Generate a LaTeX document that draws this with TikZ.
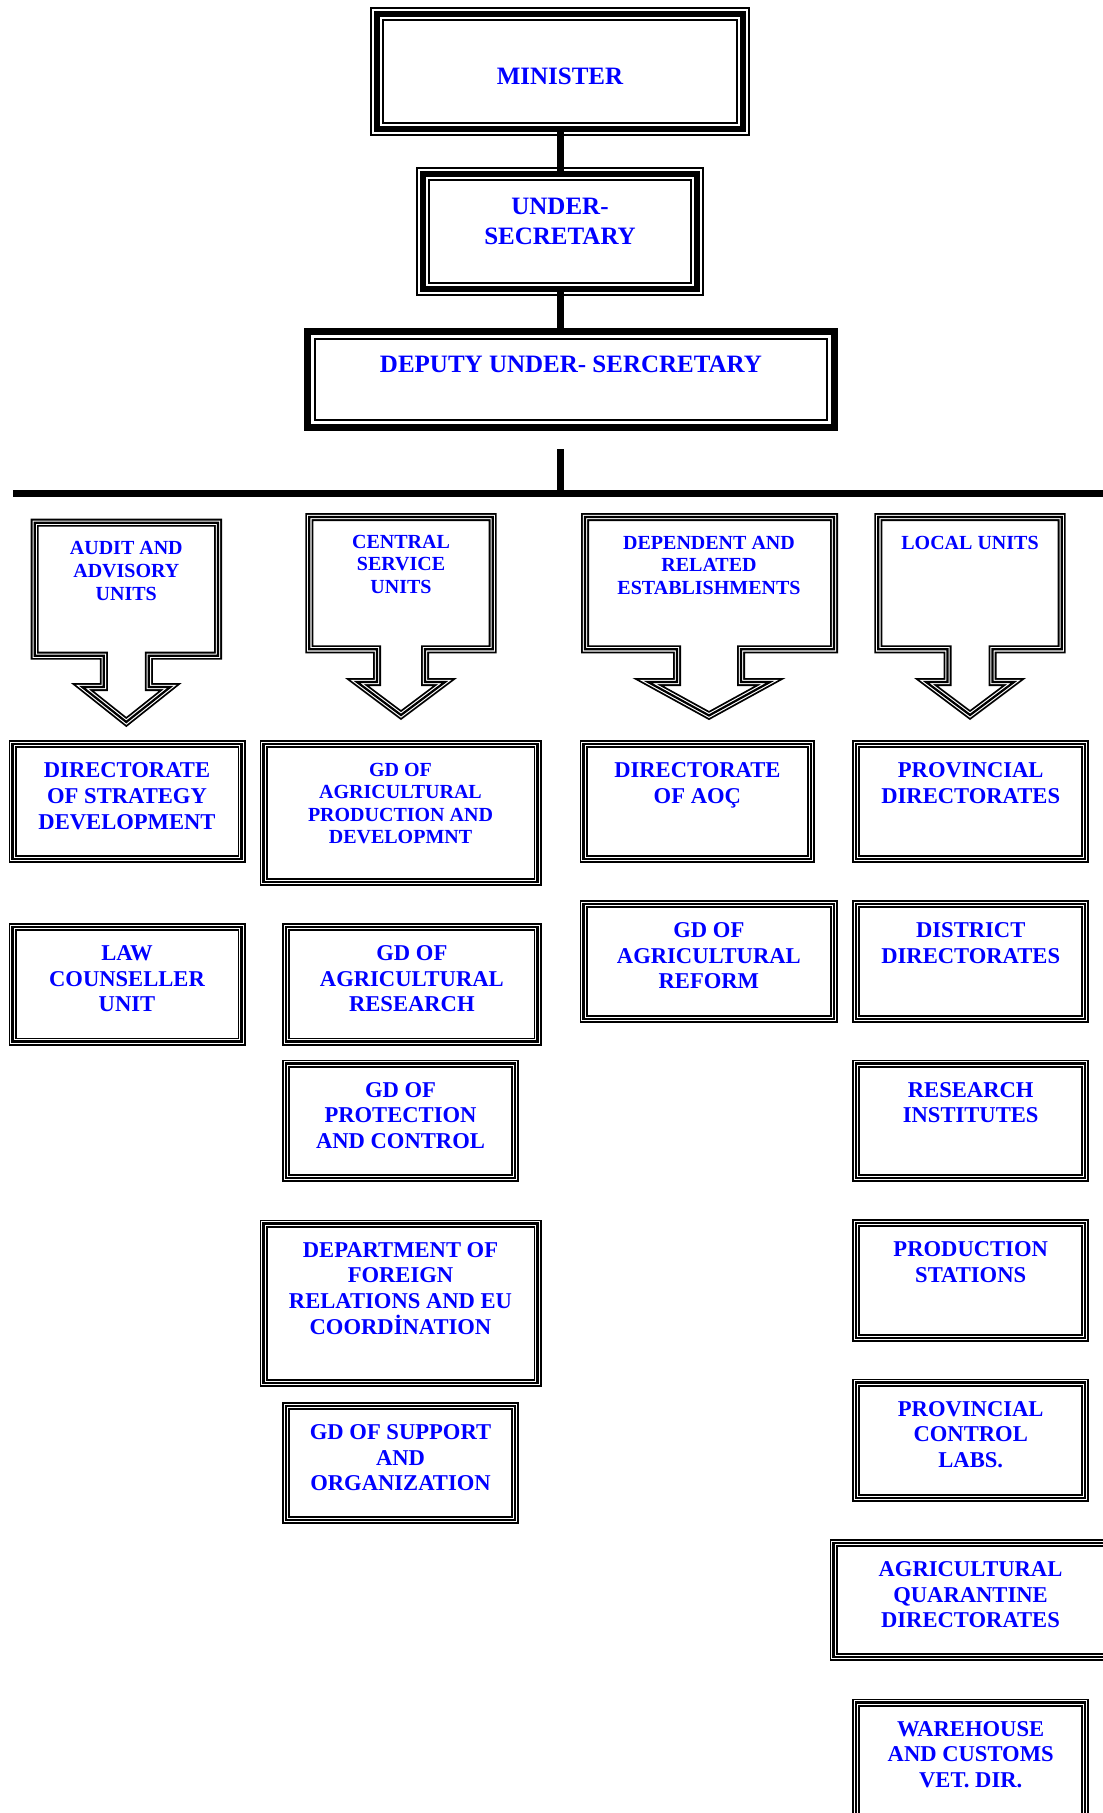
\documentclass[tikz,border=0pt]{standalone}
\usepackage{fontspec}
\setmainfont{Liberation Serif}
\usetikzlibrary{positioning,fit}

\begin{document}
\begin{tikzpicture}[x=0.5pt,y=-0.5pt,
  headbox/.style={draw=black, line width=3pt, inner sep=0pt, outer sep=0pt,
    preaction={draw=black, line width=7pt}, preaction={draw=white, line width=5pt}},
  unitbox/.style={draw=black, line width=1.1pt, inner sep=0pt, outer sep=0pt,
    preaction={draw=black, line width=4pt}, preaction={draw=white, line width=2.2pt}},
  trunk/.style={line width=3.5pt},
  toptext/.style={text=blue, align=center, inner sep=0pt, outer sep=0pt,
    font=\fontsize{12.5}{14.7}\selectfont\bfseries},
  unittext/.style={text=blue, align=center, inner sep=0pt, outer sep=0pt,
    font=\fontsize{11.3}{12.9}\selectfont\bfseries},
  smalltext/.style={text=blue, align=center, inner sep=0pt, outer sep=0pt,
    font=\fontsize{10}{11.3}\selectfont\bfseries}]

\useasboundingbox (0,0) rectangle (1102,1813);

% top of the chart
\node[headbox, fit={(377,14.3) (743,129)}] (minister) {};
\node[toptext, below=27pt of minister.north] (minister-t) {MINISTER};

\node[headbox, fit={(423,173.7) (697,289)}] (under) {};
\node[toptext, below=12.3pt of under.north] (under-t) {UNDER-\\SECRETARY};

\node[draw, line width=3.5pt, inner sep=0pt, outer sep=0pt, fit={(307.5,331.7) (834.5,427.3)}] (deputy) {};
\draw[line width=0.75pt] ([xshift=3.65pt,yshift=-3.65pt]deputy.north west) rectangle ([xshift=-3.65pt,yshift=3.65pt]deputy.south east);
\node[toptext, below=12.15pt of deputy.north] (deputy-t) {DEPUTY UNDER- SERCRETARY};

\draw[trunk] (minister.south) -- (under.north);
\draw[trunk] (under.south) -- (under.south |- deputy.north);

\coordinate (hub) at (560,449);
\coordinate (barL) at (13,493.5);
\coordinate (barR) at (1110,493.5);
\draw[trunk] (hub) -- (hub |- barL);
\draw[trunk] (barL) -- (barR);

% arrow shaped headings
\foreach \xl/\xr/\yt/\yb/\xc/\hs/\yw/\hw/\ytip in {
    34.7/218/522.7/655.7/126.3/22.5/687/44/722,
    309.3/492.7/517/649.3/401/24/682/44/715,
    585/834/517/649.3/709/32/682/61/715.5,
    878.3/1061.7/517/649.3/970/22.5/682/44/715}
  \draw[unitbox] (\xl,\yt) -- (\xr,\yt) -- (\xr,\yb) -- (\xc+\hs,\yb) -- (\xc+\hs,\yw)
    -- (\xc+\hw,\yw) -- (\xc,\ytip) -- (\xc-\hw,\yw) -- (\xc-\hs,\yw) -- (\xc-\hs,\yb)
    -- (\xl,\yb) -- cycle;

\node[smalltext, anchor=north] (audit) at (126.3,541.7) {AUDIT AND\\ADVISORY\\UNITS};
\node[smalltext, anchor=north] (central) at (401,535) {CENTRAL\\SERVICE\\UNITS};
\node[smalltext, anchor=north] (depend) at (709,536) {DEPENDENT AND\\RELATED\\ESTABLISHMENTS};
\node[smalltext, anchor=north] (local) at (970,536) {LOCAL UNITS};

% first column
\node[unitbox, fit={(12.5,744.2) (241.5,859.2)}] (strat) {};
\node[unittext, below=9.3pt of strat.north] (strat-t) {DIRECTORATE\\OF STRATEGY\\DEVELOPMENT};

\node[unitbox, fit={(12.5,926.8) (241.5,1041.5)}] (law) {};
\node[unittext, below=9.3pt of law.north] (law-t) {LAW\\COUNSELLER\\UNIT};

% second column
\node[unitbox, fit={(263.5,744.2) (537.5,881.8)}] (agprod) {};
\node[smalltext, below=9.3pt of agprod.north] (agprod-t) {GD OF\\AGRICULTURAL\\PRODUCTION AND\\DEVELOPMNT};

\node[unitbox, fit={(286.2,926.8) (537.5,1041.5)}] (agres) {};
\node[unittext, below=9.3pt of agres.north] (agres-t) {GD OF\\AGRICULTURAL\\RESEARCH};

\node[unitbox, fit={(286.2,1063.5) (514.8,1178.2)}] (prot) {};
\node[unittext, below=9.3pt of prot.north] (prot-t) {GD OF\\PROTECTION\\AND CONTROL};

\node[unitbox, fit={(263.5,1223.5) (537.5,1383.2)}] (foreign) {};
\node[unittext, below=9.3pt of foreign.north] (foreign-t) {DEPARTMENT OF\\FOREIGN\\RELATIONS AND EU\\COORDİNATION};

\node[unitbox, fit={(286.2,1405.8) (514.8,1519.8)}] (support) {};
\node[unittext, below=9.3pt of support.north] (support-t) {GD OF SUPPORT\\AND\\ORGANIZATION};

% third column
\node[unitbox, fit={(583.5,744.2) (811.2,859.2)}] (aoc) {};
\node[unittext, below=9.3pt of aoc.north] (aoc-t) {DIRECTORATE\\OF AOÇ};

\node[unitbox, fit={(583.5,903.8) (834.2,1018.8)}] (reform) {};
\node[unittext, below=9.3pt of reform.north] (reform-t) {GD OF\\AGRICULTURAL\\REFORM};

% fourth column
\node[unitbox, fit={(856.2,744.2) (1085.2,859.2)}] (provdir) {};
\node[unittext, below=9.3pt of provdir.north] (provdir-t) {PROVINCIAL\\DIRECTORATES};

\node[unitbox, fit={(856.2,903.8) (1085.2,1018.8)}] (district) {};
\node[unittext, below=9.3pt of district.north] (district-t) {DISTRICT\\DIRECTORATES};

\node[unitbox, fit={(856.2,1063.5) (1085.2,1178.2)}] (resinst) {};
\node[unittext, below=9.3pt of resinst.north] (resinst-t) {RESEARCH\\INSTITUTES};

\node[unitbox, fit={(856.2,1222.8) (1085.2,1338.2)}] (prodst) {};
\node[unittext, below=9.3pt of prodst.north] (prodst-t) {PRODUCTION\\STATIONS};

\node[unitbox, fit={(856.2,1382.5) (1085.2,1498.2)}] (labs) {};
\node[unittext, below=9.3pt of labs.north] (labs-t) {PROVINCIAL\\CONTROL\\LABS.};

\node[unitbox, fit={(833.5,1542.8) (1107.5,1657.2)}] (quar) {};
\node[unittext, below=9.3pt of quar.north] (quar-t) {AGRICULTURAL\\QUARANTINE\\DIRECTORATES};

\node[unitbox, fit={(856.2,1702.5) (1085.2,1820)}] (ware) {};
\node[unittext, below=9.3pt of ware.north] (ware-t) {WAREHOUSE\\AND CUSTOMS\\VET. DIR.};

\end{tikzpicture}
\end{document}
